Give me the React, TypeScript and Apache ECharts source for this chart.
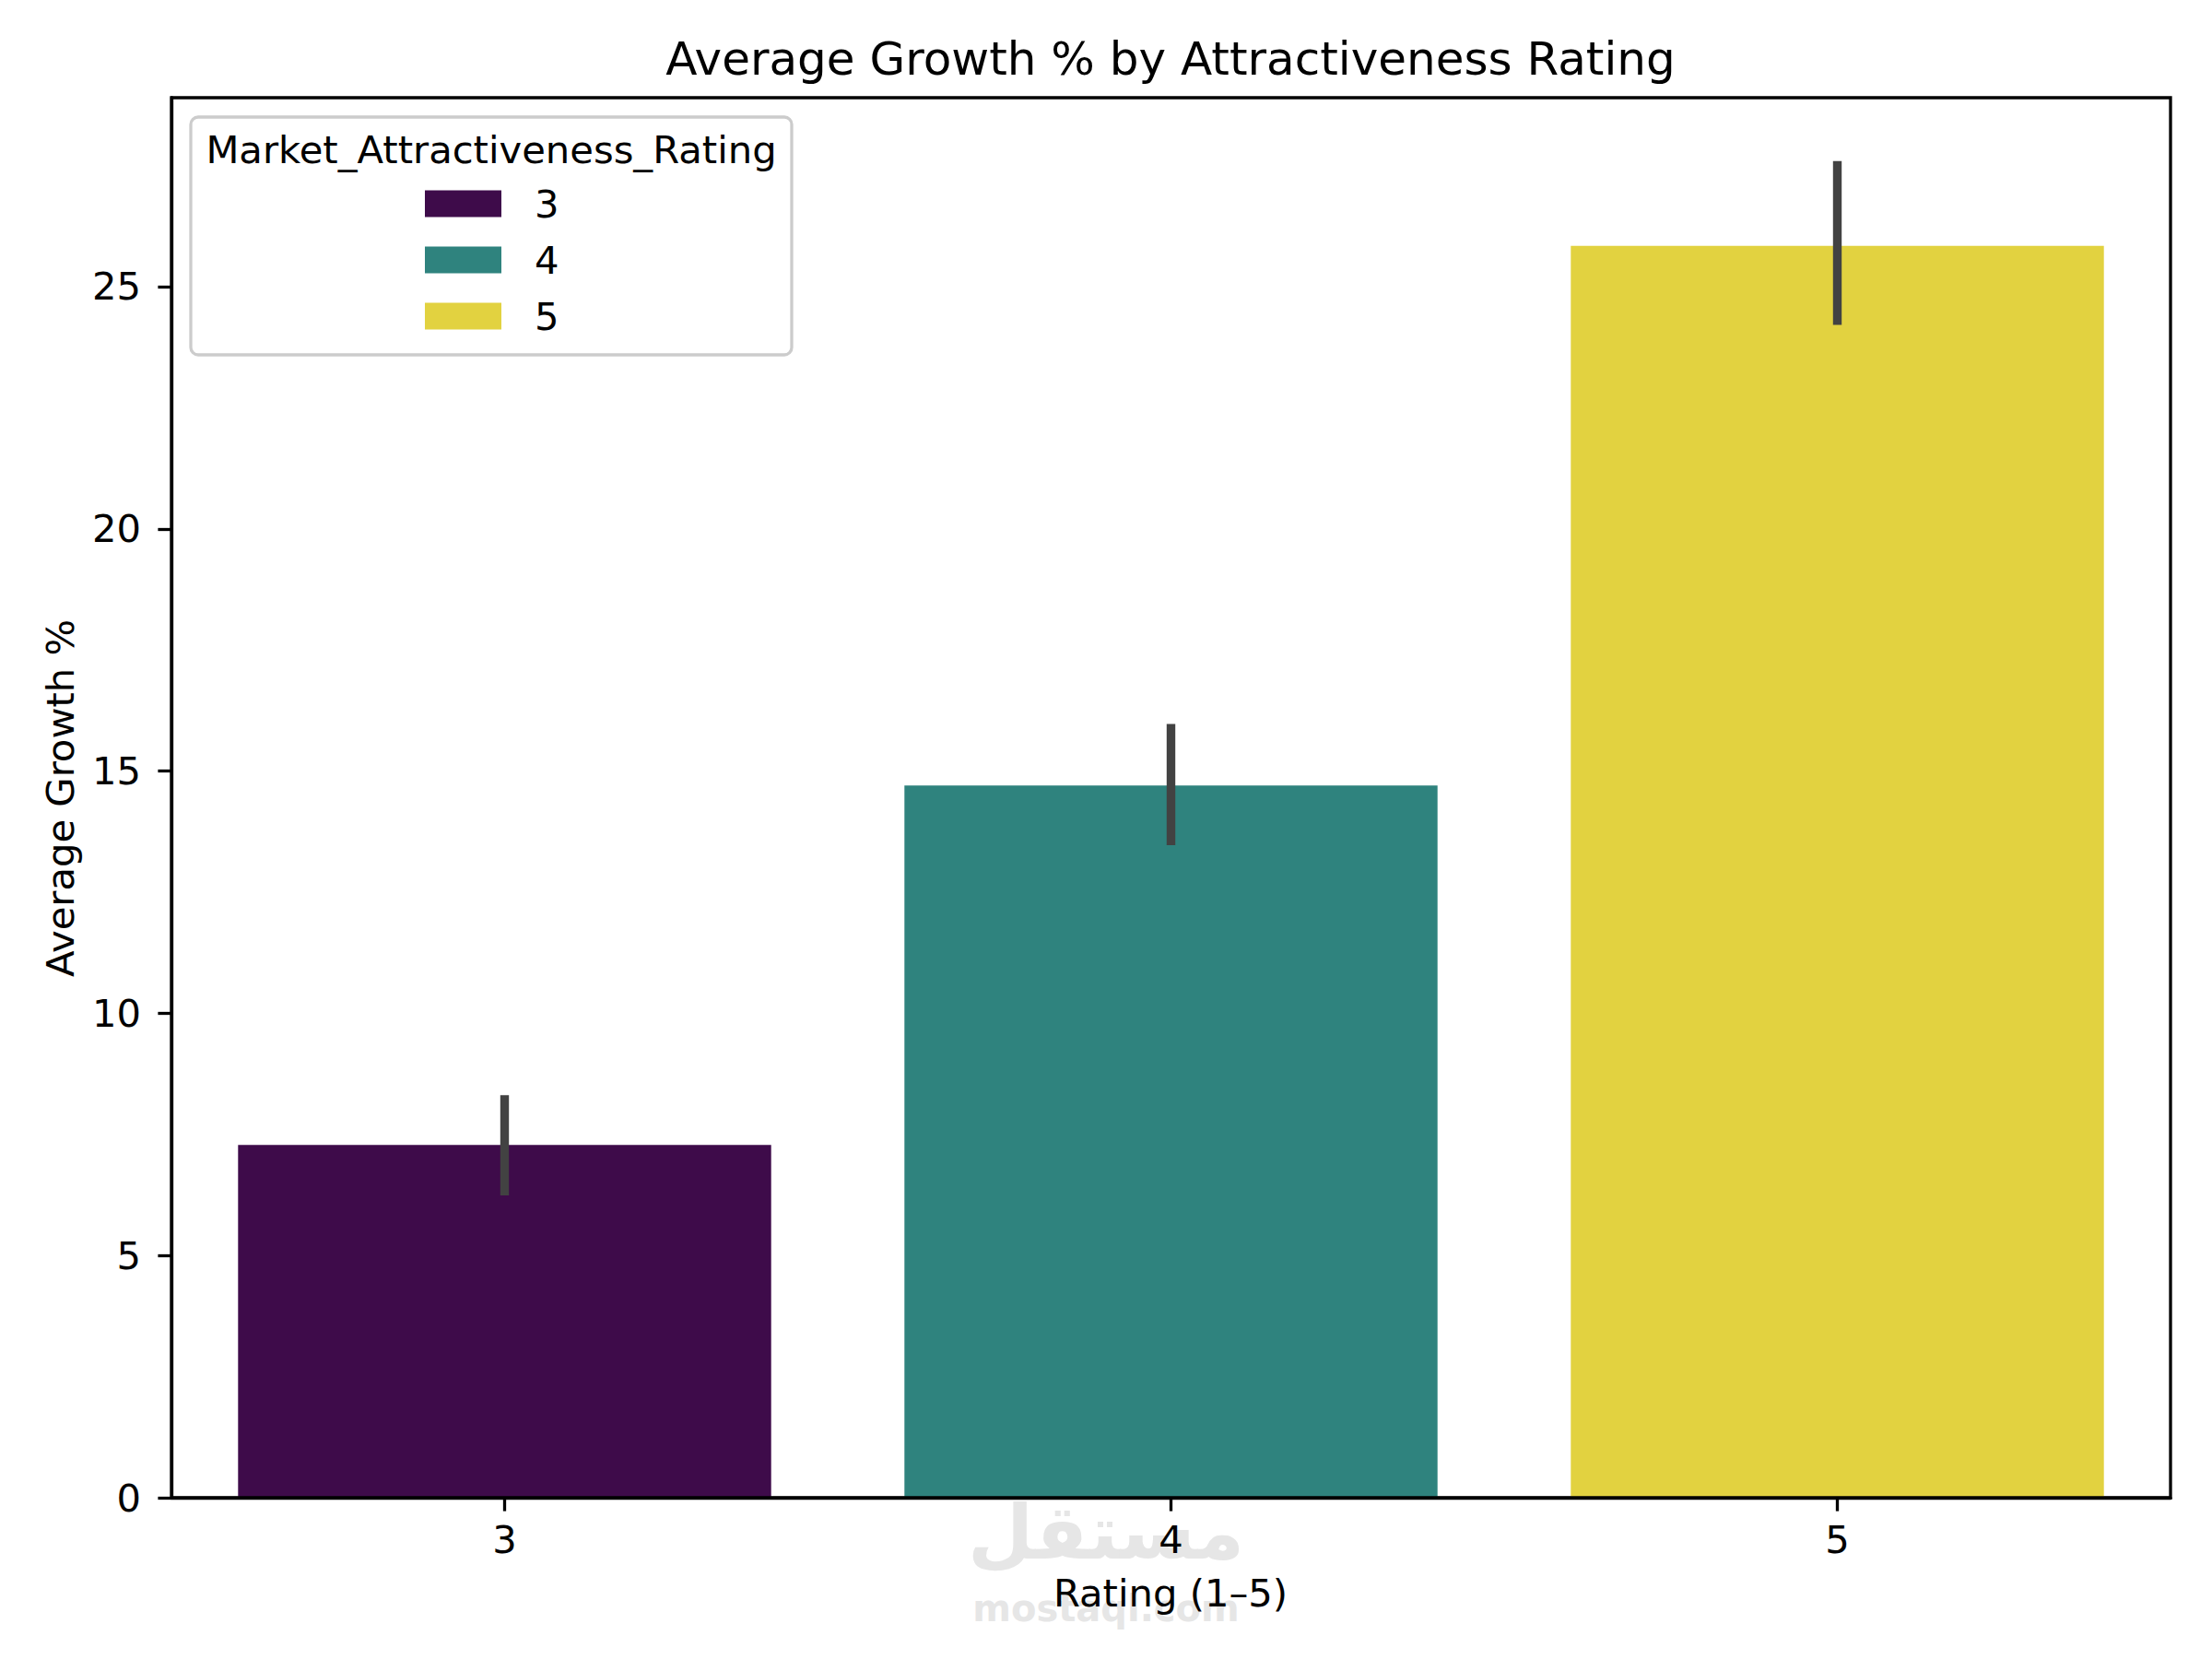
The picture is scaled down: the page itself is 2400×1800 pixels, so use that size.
import React, { useEffect, useRef } from "react";
import * as echarts from "echarts";

const categories = ["3", "4", "5"];
const meanGrowth = [7.28, 14.7, 25.84];
const ciLow = [6.24, 13.47, 24.21];
const ciHigh = [8.31, 15.97, 27.59];
const barColors = ["#3e0b4a", "#2f837e", "#e2d240"];
const yTicks = [0, 5, 10, 15, 20, 25];

const chartTitle = "Average Growth % by Attractiveness Rating";
const xTitle = "Rating (1\u20135)";
const yTitle = "Average Growth %";
const legendTitle = "Market_Attractiveness_Rating";

const FONT = "DejaVu Sans";
const FS = 41.7;

export default function App() {
  const ref = useRef<HTMLDivElement>(null);
  useEffect(() => {
    document.body.style.margin = "0";
    const chart = echarts.init(ref.current!, null, { renderer: "svg" });
    const barSeries = categories.map((name, i) => ({
      type: "bar",
      name,
      data: categories.map((_, j) => (j === i ? meanGrowth[i] : "-")),
      barWidth: "80%",
      barGap: "-100%",
      itemStyle: { color: barColors[i] },
      z: 2,
    }));
    const errSeries = {
      type: "custom",
      name: "ci",
      data: categories.map((_, i) => [i, ciLow[i], ciHigh[i]]),
      encode: { x: 0, y: [1, 2] },
      z: 5,
      renderItem: (params: any, api: any) => {
        const x = api.value(0);
        const lo = api.coord([x, api.value(1)]);
        const hi = api.coord([x, api.value(2)]);
        return {
          type: "line",
          shape: { x1: lo[0], y1: lo[1], x2: hi[0], y2: hi[1] },
          style: { stroke: "#424242", lineWidth: 9.4 },
        };
      },
    };
    chart.setOption({
      animation: false,
      backgroundColor: "#ffffff",
      textStyle: { fontFamily: FONT },
      grid: {
        left: 186,
        top: 106,
        right: 45,
        bottom: 175,
        show: true,
        borderColor: "#000000",
        borderWidth: 3.3,
        backgroundColor: "transparent",
        z: 10,
      },
      xAxis: {
        type: "category",
        data: categories,
        boundaryGap: true,
        axisLine: { show: true, lineStyle: { color: "#000", width: 3.3 } },
        axisTick: { show: true, alignWithLabel: true, length: 14.6, lineStyle: { color: "#000", width: 3.3 } },
        axisLabel: { fontSize: FS, color: "#000", fontFamily: FONT, margin: 24 },
        splitLine: { show: false },
      },
      yAxis: {
        type: "value",
        min: 0,
        max: 28.9,
        interval: 5,
        axisLine: { show: true, lineStyle: { color: "#000", width: 3.3 } },
        axisTick: { show: true, length: 14.6, lineStyle: { color: "#000", width: 3.3 }, customValues: yTicks },
        axisLabel: { fontSize: FS, color: "#000", fontFamily: FONT, margin: 33, customValues: yTicks },
        splitLine: { show: false },
      },
      legend: {
        orient: "vertical",
        left: 461,
        top: 200,
        padding: 0,
        itemWidth: 83,
        itemHeight: 29,
        itemGap: 19,
        icon: "rect",
        selectedMode: false,
        z: 4,
        data: categories,
        textStyle: { fontSize: FS, color: "#000", fontFamily: FONT, lineHeight: 42, padding: [0, 0, 0, 31] },
      },
      tooltip: { show: false },
      graphic: [
        {
          type: "text",
          x: 1200,
          y: 1662,
          z: 0,
          style: {
            text: "مستقل",
            fontSize: 82,
            fontWeight: "bold",
            fontFamily: FONT,
            fill: "#e6e6e6",
            textAlign: "center",
            textVerticalAlign: "middle",
          },
        },
        {
          type: "text",
          x: 1200,
          y: 1745,
          z: 0,
          style: {
            text: "mostaql.com",
            fontSize: 40,
            fontWeight: "bold",
            fontFamily: FONT,
            fill: "#e6e6e6",
            textAlign: "center",
            textVerticalAlign: "middle",
          },
        },
        {
          type: "rect",
          z: 3,
          shape: { x: 207, y: 127, width: 652, height: 258, r: 8 },
          style: { fill: "rgba(255,255,255,0.8)", stroke: "#cccccc", lineWidth: 3.3 },
        },
        {
          type: "text",
          x: 533,
          y: 162,
          z: 4,
          style: {
            text: legendTitle,
            fontSize: FS,
            fontFamily: FONT,
            fill: "#000",
            textAlign: "center",
            textVerticalAlign: "middle",
          },
        },
        {
          type: "text",
          x: 1270,
          y: 64,
          z: 4,
          style: {
            text: chartTitle,
            fontSize: 50,
            fontFamily: FONT,
            fill: "#000",
            textAlign: "center",
            textVerticalAlign: "middle",
          },
        },
        {
          type: "text",
          x: 1270,
          y: 1728,
          z: 4,
          style: {
            text: xTitle,
            fontSize: FS,
            fontFamily: FONT,
            fill: "#000",
            textAlign: "center",
            textVerticalAlign: "middle",
          },
        },
        {
          type: "text",
          x: 65,
          y: 866,
          z: 4,
          rotation: Math.PI / 2,
          style: {
            text: yTitle,
            fontSize: FS,
            fontFamily: FONT,
            fill: "#000",
            textAlign: "center",
            textVerticalAlign: "middle",
          },
        },
      ],
      series: [...barSeries, errSeries],
    });
    return () => chart.dispose();
  }, []);
  return <div ref={ref} style={{ width: 2400, height: 1800 }} />;
}
